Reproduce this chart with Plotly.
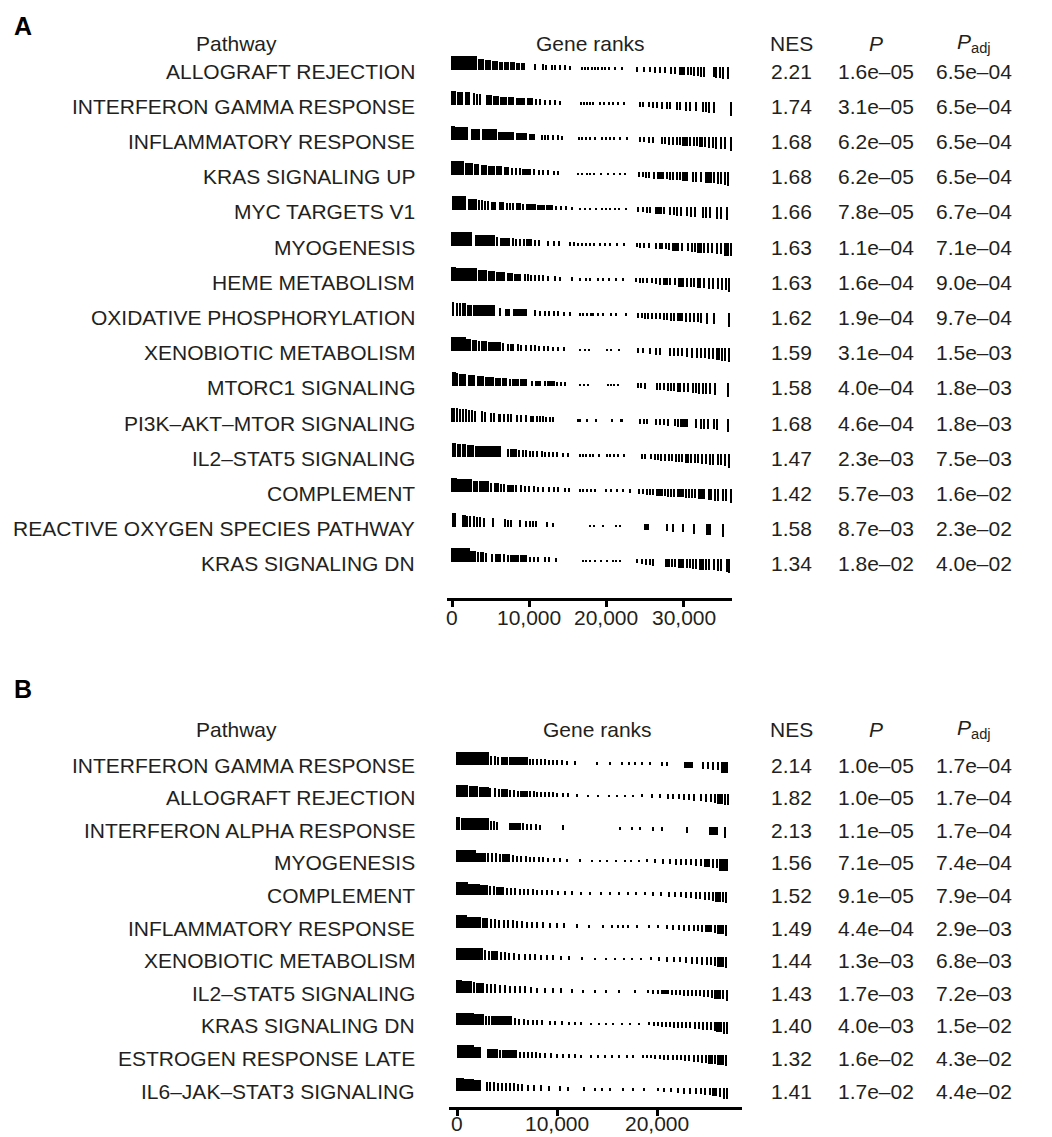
import numpy as np
import plotly.graph_objects as go

# ---------------- Panel A data ----------------
A_PATHWAYS = ["ALLOGRAFT REJECTION", "INTERFERON GAMMA RESPONSE", "INFLAMMATORY RESPONSE",
              "KRAS SIGNALING UP", "MYC TARGETS V1", "MYOGENESIS", "HEME METABOLISM",
              "OXIDATIVE PHOSPHORYLATION", "XENOBIOTIC METABOLISM", "MTORC1 SIGNALING",
              "PI3K–AKT–MTOR SIGNALING", "IL2–STAT5 SIGNALING", "COMPLEMENT",
              "REACTIVE OXYGEN SPECIES PATHWAY", "KRAS SIGNALING DN"]
A_NES = ["2.21", "1.74", "1.68", "1.68", "1.66", "1.63", "1.63", "1.62", "1.59", "1.58",
         "1.68", "1.47", "1.42", "1.58", "1.34"]
A_P = ["1.6e–05", "3.1e–05", "6.2e–05", "6.2e–05", "7.8e–05", "1.1e–04", "1.6e–04", "1.9e–04",
       "3.1e–04", "4.0e–04", "4.6e–04", "2.3e–03", "5.7e–03", "8.7e–03", "1.8e–02"]
A_PADJ = ["6.5e–04", "6.5e–04", "6.5e–04", "6.5e–04", "6.7e–04", "7.1e–04", "9.0e–04", "9.7e–04",
          "1.5e–03", "1.8e–03", "1.8e–03", "7.5e–03", "1.6e–02", "2.3e–02", "4.0e–02"]
A_TICKS = ["0", "10,000", "20,000", "30,000"]
A_TICKVALS = [0, 10000, 20000, 30000]

# gene ranks (thousands); [a, b] = run of adjacent genes
A_RANKS = [
    [[0, 3.2], [3.5, 4.1], [4.4, 5.0], [5.3, 5.9], [6.1, 6.5], [6.8, 7.3], [7.6, 8.1], [8.4, 8.7], [9.0, 9.4],
     10.7, 11.8, 12.2, 12.9, 13.3, 14.0, 14.6, 15.3,
     16.8, 17.2, 17.6, 18.1, 18.5, 18.9, 19.4, 19.8, 20.4, 21.1, 22.0,
     24.0, 24.9, 25.6, 26.3, 26.9, 27.6, 28.4, 28.9, 29.5, 29.8, 30.1, 30.6, 30.9, 31.4, 31.9, 32.2, 32.7,
     33.9, 34.2, 34.7, 35.1, 35.7],
    [[0, 0.4], 0.8, [1.0, 1.4], [1.7, 2.3], 2.8, 3.2, 3.7, [4.5, 5.1], [5.4, 6.0], [6.3, 7.0], [7.3, 8.0],
     [8.3, 9.4], [9.8, 10.4], 10.9, 11.4, 12.1, 12.7, 13.3, 14.0,
     16.7, 17.1, 17.5, 17.9, 18.3, 19.2, 19.7, 20.3, 20.8, 21.5, 22.3,
     24.4, 24.8, 25.5, 26.1, 26.6, 27.2, 27.8, 28.3, 29.2, 29.5, 30.3, 30.8, 31.6, 32.5, 32.9, 33.3, 33.9, 36.1],
    [[0, 0.3], [0.5, 2.0], [2.5, 3.6], [3.9, 5.7], [6.0, 8.0], [8.4, 9.6], [10.1, 10.7], 11.6, 12.0, 12.5,
     13.1, 13.8, 14.3,
     16.4, 16.8, 17.3, 17.9, 18.5, 19.4, 19.9, 20.5, 21.0, 21.8, 22.7,
     24.3, 24.9, 25.5, 26.1, 27.2, 27.6, 28.1, 28.6, 29.1, 29.5, [29.9, 30.5], 30.8, 31.3, 31.7, [32.0, 32.4],
     32.8, 33.3, 33.8, 34.2, 34.8, 35.3, 36.1],
    [[0, 1.5], [1.8, 2.6], [2.9, 3.4], [3.8, 4.4], [4.7, 5.5], [5.8, 6.4], [6.8, 7.3], 7.8, 8.3, 8.8,
     [9.2, 10.2], 10.6, 11.3, 11.8, 12.4, 13.2, 13.7,
     16.3, 16.9, 17.5, 17.9, 18.4, 19.3, 20.2, 21.0, 21.8, 22.4,
     24.2, 24.7, 25.1, 25.5, 26.2, [26.6, 27.4], 27.8, 28.2, 28.6, 29.1, 29.5, [29.8, 30.5], 31.2, 31.6,
     32.3, [32.8, 33.6], 33.9, 34.4, 34.9, 35.3, 35.8],
    [0.1, [0.4, 1.7], [2.1, 3.2], 3.5, 3.9, 4.3, 4.7, [5.1, 5.6], [6.1, 6.6], 7.1, 7.5, 7.9, [8.3, 8.8], 9.2,
     [9.6, 10.8], [11.1, 12.0], [12.3, 13.0], 13.5, 14.1, 14.8, 15.6,
     16.6, 17.2, 17.9, 18.6, 19.4, 20.0, 20.5, 21.1, 21.6, 22.5,
     24.1, 24.8, 25.2, 25.6, [26.3, 27.1], 27.5, 28.3, 28.7, 29.1, 29.6, 30.4, 31.0, 31.5, 32.5, 32.9,
     33.4, 34.3, 34.9, 35.6],
    [[0, 2.5], [3.0, 5.5], 5.9, [6.3, 7.4], 7.9, 8.3, 8.8, 9.3, [9.7, 10.3], 10.8, 11.3, 12.5, 13.2, 13.9,
     15.3, 15.8, 16.3, 16.8, 17.3, 17.9, 18.4, 19.2, 19.8, 20.5, 21.4, 22.3,
     23.9, 24.4, 24.9, 25.5, 26.4, [26.9, 27.3], 27.7, 28.1, [28.5, 29.3], 29.8, 30.6, 31.1, 31.5,
     [31.8, 32.3], 32.7, 33.2, 33.7, 34.3, 34.8, [35.3, 35.8], 36.1],
    [[0, 0.4], [0.6, 3.2], [3.5, 4.5], [4.8, 5.5], [5.8, 6.8], [7.2, 7.8], [8.1, 8.9], 9.4, 9.8, 10.3, 10.8,
     11.3, 11.8, 12.4,
     13.4, 14.0, 15.5, 16.6, 17.3, 17.9, 18.9, 19.5, 20.4, 21.2, 22.1,
     23.8, 24.3, 24.8, 25.3, 25.9, 26.4, 27.0, [27.4, 27.9], 28.3, 28.9, [29.4, 30.0], 30.4, 30.9, 31.4,
     [31.8, 32.2], 32.7, 33.3, 33.8, 34.4, 35.0, 35.5, 35.9],
    [0.2, 0.6, 1.0, 1.4, 1.7, [2.0, 2.5], [2.8, 5.5], 6.2, [7.0, 7.4], [8.0, 9.6], 10.7, 11.4, 12.0, 12.6,
     13.2, 13.8, 14.5, 15.3,
     16.6, 17.0, 17.5, 18.0, 18.3, 18.9, 19.5, 20.6, 21.3, 22.6,
     24.1, 24.6, 25.0, 25.4, 25.9, 26.4, 26.9, 27.4, 27.9, 28.4, 28.8, [29.2, 29.8], 30.3, 30.8, 31.3,
     31.8, 32.3, 33.0, 33.9, 35.9],
    [[0, 0.3], [0.4, 1.7], [1.9, 2.4], [2.7, 3.1], 3.5, [3.8, 4.4], [4.7, 5.5], [5.7, 6.2], 6.6, 7.2,
     [7.6, 8.0], 8.5, 9.0, 9.6, 10.2, 10.7, 11.3, 11.9, 12.5, 13.1, 13.8, 14.5,
     16.6, 17.2, 17.7, 20.1, 20.6, 21.6,
     24.1, 24.8, 25.6, 26.4, 27.0, 28.3, 28.8, 29.3, 29.8, 30.4, 31.1, 31.7, 32.3, 32.8, 33.3, 33.8,
     [34.2, 34.6], 35.0, 35.4, 35.9],
    [0.1, 0.4, 0.7, 1.0, [1.3, 1.7], [2.1, 2.9], [3.3, 4.1], [4.4, 5.3], [5.6, 6.0], 6.2, [6.5, 7.1], 7.5,
     [7.9, 8.6], [8.9, 9.6], 10.4, [10.8, 11.5], 12.0, [12.4, 13.2], 13.6, 14.1, 14.6,
     16.6, 17.1, 17.6, 20.2, 20.6, 21.0, 21.5,
     24.1, 24.5, 25.0, 26.5, 27.0, 27.5, 28.0, 28.4, 28.8, [29.2, 29.6], 30.0, 30.6, 31.2, 31.6, 32.0,
     32.5, 32.9, 33.4, 34.1, 35.8],
    [[0, 0.3], 0.6, 1.0, 1.4, 1.8, 2.2, 2.6, 3.0, 3.9, 4.3, 5.1, 5.5, [6.0, 6.3], 6.8, 7.2, 7.7, 8.4, 9.0,
     9.6, 10.2, 10.5, 11.0, 11.4, 11.8, 12.2, 12.7, 13.1,
     16.3, 16.6, 17.5, 18.7, 20.7, [21.8, 22.0],
     24.4, 24.9, 25.3, 26.4, 26.9, 27.4, 28.0, 28.9, 29.3, 29.6, 29.9, [30.1, 30.5], 31.6, 32.2, 32.7,
     33.1, 33.9, 34.3, 35.8],
    [0.1, 0.4, [0.7, 1.1], 1.4, 1.7, [2.0, 2.8], [3.0, 6.3], 7.2, [7.6, 8.3], 8.7, 9.2, 9.6, 10.1, 10.5,
     11.0, 11.6, 12.0, 12.6, 13.1, 13.6, 14.4, 15.0,
     16.6, 17.0, 17.4, 17.9, 18.3, 19.0, 20.1, 20.5, 21.0, 21.5, 22.3,
     24.6, 25.0, 25.8, 26.3, 26.7, 27.1, 27.6, 28.1, 28.5, 29.0, 29.4, 29.8, [30.2, 30.6], 31.0, 31.5,
     31.9, 32.4, 32.9, 33.4, 33.8, 34.4, 34.8, 35.3, 35.9],
    [[0, 0.5], [0.6, 2.5], [2.8, 3.3], [3.6, 4.7], 5.1, [5.5, 6.0], 6.4, 6.8, [7.2, 7.9], 8.3, 8.9, 9.4,
     10.0, 10.6, 11.2, 11.8, 12.6, 13.2, 13.8, 14.7, 15.2,
     16.6, 17.0, 17.5, 18.0, 18.5, 20.0, 20.6, 21.4, 22.2, 23.0,
     24.2, 24.7, 25.2, 25.7, 26.1, [26.5, 27.2], 27.6, 28.0, 28.4, 28.8, [29.2, 29.9], 30.3, 30.7, 31.1,
     31.5, [31.9, 32.4], 32.7, 33.3, 33.6, 34.0, 34.5, 35.1, 35.5, 36.1],
    [0.1, 0.4, 1.4, 1.7, 2.0, 2.4, 2.8, 3.2, 3.6, 4.2, 5.3, 6.9, 7.3, 7.7, 8.8, 9.6, 10.1, 10.5, 10.9,
     12.3, 13.1,
     17.9, 18.4, 19.6, 21.3, 21.8,
     [25.0, 25.4], 27.8, 28.6, 29.9, 31.4, [32.9, 33.4], 35.1],
    [[0, 2.2], [2.4, 3.0], 3.4, [3.7, 4.1], 4.4, 5.2, [5.6, 6.3], 6.7, 7.3, [7.6, 8.6], [8.9, 9.6], 10.1,
     10.6, 11.2, 12.0, 12.6, 13.5,
     17.0, 17.4, 17.9, 18.5, 19.3, 20.1, 20.8, 21.3, 21.7,
     23.9, 24.6, 25.1, 25.6, 26.0, [27.6, 28.1], 28.5, 28.9, [29.3, 30.0], 30.4, 30.8, 31.2, 31.6,
     [32.0, 32.5], 32.9, 33.3, 33.9, 34.4, 34.9, 35.6, 35.9],
]
# ranked statistic (scaled) read at rank knots (thousands)
A_STAT_K = [0, 0.5, 1, 2, 3, 4, 5, 6, 7, 8, 9, 10, 11, 12, 13, 14, 15, 16, 23, 24, 25, 26, 27, 28, 29,
            30, 31, 32, 33, 34, 35, 35.8]
A_STAT_V = [0.95, 0.9, 0.84, 0.76, 0.69, 0.62, 0.56, 0.5, 0.45, 0.41, 0.37, 0.33, 0.29, 0.26, 0.23,
            0.2, 0.16, 0.05, -0.2, -0.28, -0.33, -0.38, -0.42, -0.47, -0.52, -0.57, -0.62, -0.67,
            -0.72, -0.78, -0.85, -0.95]

# ---------------- Panel B data ----------------
B_PATHWAYS = ["INTERFERON GAMMA RESPONSE", "ALLOGRAFT REJECTION", "INTERFERON ALPHA RESPONSE",
              "MYOGENESIS", "COMPLEMENT", "INFLAMMATORY RESPONSE", "XENOBIOTIC METABOLISM",
              "IL2–STAT5 SIGNALING", "KRAS SIGNALING DN", "ESTROGEN RESPONSE LATE",
              "IL6–JAK–STAT3 SIGNALING"]
B_NES = ["2.14", "1.82", "2.13", "1.56", "1.52", "1.49", "1.44", "1.43", "1.40", "1.32", "1.41"]
B_P = ["1.0e–05", "1.0e–05", "1.1e–05", "7.1e–05", "9.1e–05", "4.4e–04", "1.3e–03", "1.7e–03",
       "4.0e–03", "1.6e–02", "1.7e–02"]
B_PADJ = ["1.7e–04", "1.7e–04", "1.7e–04", "7.4e–04", "7.9e–04", "2.9e–03", "6.8e–03", "7.2e–03",
          "1.5e–02", "4.3e–02", "4.4e–02"]
B_TICKS = ["0", "10,000", "20,000"]
B_TICKVALS = [0, 10000, 20000]

B_RANKS = [
    [[0, 3.1], 3.4, 3.8, 4.1, 4.5, [4.7, 5.0], [5.3, 7.0], 7.3, 7.6, 8.0, 8.4, 8.8, 9.2, 9.6, 10.0, 10.5,
     11.0, 11.8, 14.0, 15.3, 16.5, 17.2, 17.8, 18.5, 19.3,
     20.5, 21.0, [22.8, 23.5], 24.6, 25.1, 25.6, 26.1, [26.5, 26.9], 27.0],
    [[0, 1.0], [1.3, 2.0], [2.3, 3.1], 3.3, 3.8, 4.2, [4.5, 5.0], 5.3, 5.7, 6.1, [6.4, 7.0], 7.3, 7.7, 8.0,
     8.4, 8.8, 9.2, 9.6, 10.0, 10.6, 11.1,
     12.0, 13.1, 14.1, 15.2, 16.0, 16.8, 17.6, 18.5, 19.5, 20.3,
     21.1, 21.6, 22.2, 22.7, 23.2, 23.7, 24.4, 24.9, 25.4, 25.8, [26.1, 26.5], 26.8, 27.1],
    [[0, 0.2], [0.5, 3.1], 3.4, 3.7, 4.0, [5.3, 6.3], 6.6, 7.0, 7.4, 7.9, 8.3, 10.6,
     16.3, 17.5, 18.3, 19.6, 20.5, 23.0, [25.3, 26.0], 26.8],
    [[0, 1.8], [2.0, 2.8], 3.1, 3.5, 3.9, 4.3, [4.6, 5.2], 5.6, 6.0, 6.4, 6.9, 7.3, 7.7, 8.2, 8.6, 9.1,
     9.7, 10.3, 11.0,
     12.3, 13.5, 14.3, 15.0, 15.9, 16.8, 17.4, 18.2, 19.0, 19.8,
     20.6, 21.3, 21.9, 22.4, 22.9, 23.4, 23.9, 24.4, [24.8, 25.2], 25.6, 26.0, [26.3, 26.8], 27.0],
    [[0, 1.0], [1.2, 2.2], [2.4, 3.0], 3.3, 3.7, [4.0, 4.6], 5.0, 5.4, 5.8, 6.3, 6.7, 7.1, 7.6, 8.0, 8.5,
     9.0, 9.5, 10.1, 10.8, 11.5,
     12.4, 13.3, 14.4, 15.3, 16.2, 17.1, 17.9, 18.8, 19.6, 20.4,
     21.2, 21.8, 22.4, 22.9, 23.4, 23.9, 24.3, 24.8, 25.2, 25.6, [25.9, 26.3], 26.6, 26.9],
    [[0, 0.9], [1.1, 2.3], [2.6, 3.0], 3.4, 3.8, 4.2, 4.7, 5.1, 5.6, 6.0, 6.5, 7.0, 7.5, 8.0, 8.6, 9.3,
     10.0, 10.7,
     12.0, 13.2, 14.6, 15.5, 16.1, 16.6, 17.1, 18.0, 19.2, 20.1,
     21.0, 21.6, 22.2, 22.7, 23.2, 23.7, 24.1, 24.5, [24.9, 25.4], 25.8, [26.1, 26.6], 26.9],
    [[0, 2.5], 2.8, 3.2, [3.5, 4.0], 4.4, 4.8, 5.2, 5.7, 6.2, 6.8, 7.3, 7.8, 8.4, 9.0, 9.6, 10.4, 11.2,
     12.5, 13.8, 14.9, 15.8, 16.7, 17.5, 18.4, 19.4, 20.2,
     21.0, 21.7, 22.3, 22.9, 23.5, 24.0, 24.5, 25.0, 25.4, 25.8, [26.1, 26.6], 26.9],
    [[0, 0.4], [0.6, 1.4], 1.7, [2.0, 2.6], 3.0, 3.4, 3.8, 4.3, 4.8, 5.3, 5.8, 6.3, 6.8, 7.4, 8.0, 8.8,
     9.6, 10.4,
     11.5, 12.6, 13.8, 14.9, 16.2, 17.8,
     19.1, 19.6, 20.1, [20.5, 21.1], 21.5, 21.9, 22.3, 22.7, 23.1, 23.5, 23.9, 24.3, 24.7, 25.1, 25.5,
     [25.8, 26.3], 26.6, 27.0],
    [[0, 1.6], [1.7, 2.6], 2.9, 3.2, [3.5, 5.4], 5.8, 6.2, 6.7, 7.1, 7.6, 8.0, 8.5, 9.3, 9.8, 10.5, 11.2,
     11.8, 12.4, 13.4,
     14.2, 14.9, 15.6, 16.5, 17.3, 18.2,
     19.2, 19.7, 20.1, 20.5, 20.9, 21.3, 21.7, 22.1, 22.5, 22.9, 23.3, 23.8, 24.2, 24.6, 25.0, 25.4, 25.8,
     [26.0, 26.4], 26.7, 27.0],
    [[0.1, 1.6], [1.8, 2.3], [3.1, 4.0], 4.3, [4.6, 5.9], 6.3, 6.7, 7.1, 7.5, 7.9, 8.3, 8.8, 9.4, 10.0,
     10.6, 11.2, 11.8, 12.4, 13.4,
     14.1, 14.8, 15.5, 16.2, 17.0, 17.6,
     18.6, 19.0, 19.4, 19.8, 20.3, 20.7, 21.1, 21.6, 22.0, 22.4, 22.8, 23.2, 23.7, 24.1, 24.5, 24.9,
     [25.2, 25.5], 25.8, [26.1, 26.6], 26.9],
    [[0, 0.6], [0.8, 1.6], [1.8, 2.3], 3.0, 3.3, 3.7, 4.1, 4.5, 4.9, 5.3, 5.7, 6.1, 6.5, 7.1, 7.7, 8.4,
     9.2, 10.3, 11.1, 12.7,
     13.8, 14.5, 15.3, 16.6, 17.6, 18.7,
     20.1, 20.7, 21.4, 22.1, 22.7, 23.3, 23.9, 24.4, 24.8, 25.3, [25.6, 25.9], 26.3, 26.7, 27.0],
]
B_STAT_K = [0, 0.5, 1, 2, 3, 4, 5, 6, 7, 8, 9, 10, 11, 12, 13, 18.5, 19.5, 20.5, 21.5, 22.5, 23.5,
            24.5, 25.5, 26.2, 26.7]
B_STAT_V = [0.95, 0.88, 0.82, 0.72, 0.64, 0.55, 0.48, 0.42, 0.37, 0.32, 0.28, 0.24, 0.2, 0.14, 0.06,
            -0.14, -0.2, -0.27, -0.33, -0.4, -0.46, -0.54, -0.62, -0.72, -0.85]

W, H = 1052, 1137
FONT = "Liberation Sans, Arial, Helvetica, sans-serif"
TXT = "#231f20"
FS = 21


def px_x(p):
    return p / W


def px_y(p):
    return 1 - p / H


def barcode(rows, knots_k, knots_v, single_w, k_scale, base_off, gap):
    kk = np.array(knots_k)
    vv = np.array(knots_v)

    def stat(r):
        return vv[max(np.searchsorted(kk, r, side="right") - 1, 0)]

    xs, ws, ys, bs = [], [], [], []
    for i, row in enumerate(rows):
        b0 = -i + base_off
        for item in row:
            if isinstance(item, list):
                a, b = item
                s = stat(a)
                if s < 0:
                    s = stat(b)
                xs.append((a + b) / 2 * 1000)
                ws.append((b - a) * 1000 + single_w)
            else:
                s = stat(item)
                xs.append(item * 1000)
                ws.append(single_w)
            if s >= 0:
                bs.append(b0 - gap)
                ys.append(max(s, 0.08) * k_scale + gap)
            else:
                bs.append(b0 + gap)
                ys.append(min(s, -0.08) * k_scale - gap)
    return xs, ws, ys, bs


# Panel geometry (pixels)
A_TOP, A_SP, A_AX, A_FRAME_TOP, A_HDR = 63, 35.2, 590, 4, 35
B_TOP, B_SP, B_AX, B_FRAME_TOP, B_HDR = 757, 32.6, 1099, 700, 721

fig = go.Figure()

xa, wa, ya, ba = barcode(A_RANKS, A_STAT_K, A_STAT_V, 160, 13 / A_SP, 3 / A_SP, 1.5 / A_SP)
fig.add_trace(go.Bar(x=xa, y=ya, base=ba, width=wa, marker=dict(color="black", line=dict(width=0)),
                     xaxis="x", yaxis="y", showlegend=False, hoverinfo="skip"))
xb, wb, yb, bb = barcode(B_RANKS, B_STAT_K, B_STAT_V, 130, 11.5 / B_SP, 2 / B_SP, 1.5 / B_SP)
fig.add_trace(go.Bar(x=xb, y=yb, base=bb, width=wb, marker=dict(color="black", line=dict(width=0)),
                     xaxis="x2", yaxis="y2", showlegend=False, hoverinfo="skip"))

axis_common = dict(showline=True, linecolor="black", linewidth=3, ticks="outside", ticklen=6,
                   tickwidth=3, tickcolor="black", showgrid=False, zeroline=False,
                   showticklabels=False)

fig.update_layout(
    width=W, height=H, margin=dict(l=0, r=0, t=0, b=0),
    paper_bgcolor="white", plot_bgcolor="white", barmode="overlay", bargap=0,
    xaxis=dict(domain=[px_x(439), px_x(724)], range=[-650, 36250], anchor="y",
               tickvals=A_TICKVALS, **axis_common),
    yaxis=dict(domain=[px_y(A_AX), px_y(A_FRAME_TOP)],
               range=[-(A_AX - A_TOP) / A_SP, (A_TOP - A_FRAME_TOP) / A_SP],
               visible=False, anchor="x"),
    xaxis2=dict(domain=[px_x(441), px_x(734)], range=[-800, 28500], anchor="y2",
                tickvals=B_TICKVALS, **axis_common),
    yaxis2=dict(domain=[px_y(B_AX), px_y(B_FRAME_TOP)],
                range=[-(B_AX - B_TOP) / B_SP, (B_TOP - B_FRAME_TOP) / B_SP],
                visible=False, anchor="x2"),
)

annotations = []


def txt(x, y, yref, text, anchor="center", size=FS, xref="paper"):
    annotations.append(dict(x=x, y=y, xref=xref, yref=yref, text=text, showarrow=False,
                            xanchor=anchor, yanchor="middle",
                            font=dict(family=FONT, size=size, color=TXT)))


COL_NAME_R = px_x(409)
COL_NAME_C = px_x(228)
COL_NES = px_x(783)
COL_P = px_x(868)
COL_PADJ = px_x(966)

for yref, names, nes, pv, padj, hdr_y, gx in [
    ("y", A_PATHWAYS, A_NES, A_P, A_PADJ, (A_TOP - A_HDR) / A_SP, px_x(582)),
    ("y2", B_PATHWAYS, B_NES, B_P, B_PADJ, (B_TOP - B_HDR) / B_SP, px_x(589)),
]:
    txt(COL_NAME_C, hdr_y, yref, "Pathway")
    txt(gx, hdr_y, yref, "Gene ranks")
    txt(COL_NES, hdr_y, yref, "NES")
    txt(COL_P, hdr_y, yref, "<i>P</i>")
    txt(COL_PADJ, hdr_y, yref, "<i>P</i><sub>adj</sub>")
    for i in range(len(names)):
        txt(COL_NAME_R, -i, yref, names[i], anchor="right")
        txt(COL_NES, -i, yref, nes[i])
        txt(COL_P, -i, yref, pv[i])
        txt(COL_PADJ, -i, yref, padj[i])

# axis tick labels placed through each x axis' own scale
for xref, vals, labs, ax_px, off in [("x", A_TICKVALS, A_TICKS, A_AX, 19),
                                     ("x2", B_TICKVALS, B_TICKS, B_AX, 16)]:
    for v, lab in zip(vals, labs):
        txt(v, px_y(ax_px + off), "paper", lab, xref=xref)

for lab, yp in [("A", 2), ("B", 665)]:
    annotations.append(dict(x=px_x(4), y=px_y(yp), xref="paper", yref="paper", text="<b>" + lab + "</b>",
                            showarrow=False, xanchor="left", yanchor="top",
                            font=dict(family=FONT, size=25, color="black")))

fig.update_layout(annotations=annotations)
fig.write_html("out.html")
